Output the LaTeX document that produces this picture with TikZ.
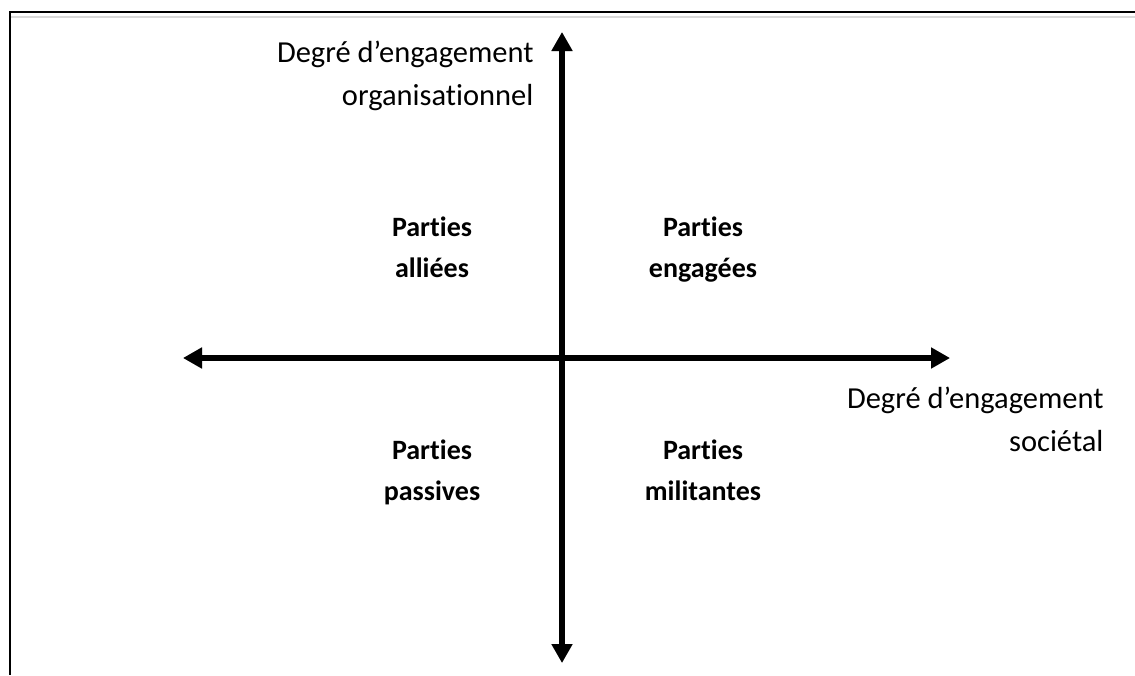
\documentclass[tikz,border=0pt]{standalone}
\usepackage{fontspec}
\setmainfont{Carlito}[Ligatures={NoCommon,NoContextual},Contextuals=NoAlternate,RawFeature={-liga;-clig;-dlig;-calt}]
\usepackage{tikz}
\usetikzlibrary{arrows.meta,positioning}

\begin{document}
\begin{tikzpicture}[x=1pt,y=-1pt,
        axis/.style={{Triangle[length=19pt,width=20pt]}-{Triangle[length=19pt,width=20pt]},line width=6pt,black},
        axisshadow/.style={axis,black!18,shift={(2,5)}},
        frame/.style={line width=1.6pt,black},
        axislabel/.style={font=\fontsize{30.5}{43}\selectfont,align=right,
                          execute at begin node=\strut,execute at end node=\strut},
        quadrant/.style={font=\fontsize{28}{41}\selectfont\bfseries,align=center,
                         execute at begin node=\strut,execute at end node=\strut}]
  \useasboundingbox (0,0) rectangle (1135,675);
  % page frame
  \draw[line width=2pt,black!15] (10,17) -- (1135,17);
  \draw[frame] (1135,12) -- (10,12) -- (10,675);
  % axes
  \coordinate (west)  at (183,358);
  \coordinate (east)  at (950,358);
  \coordinate (north) at (562,32);
  \coordinate (south) at (562,663);
  \draw[axisshadow] (west) -- (east);
  \draw[axisshadow,shift={(-2,-4)}] (north) -- (south);
  \draw[axis] (west) -- (east);
  \draw[axis] (north) -- (south);
  % axis labels
  \node[axislabel,anchor=east] (orga) at (537,80)  {Degré d’engagement\\organisationnel};
  \node[axislabel,anchor=east] (soc)  at (1107,426) {Degré d’engagement\\sociétal};
  % quadrants
  \node[quadrant] (allies)    at (432,253) {Parties\\alliées};
  \node[quadrant] (engages)   at (703,253) {Parties\\engagées};
  \node[quadrant] (passives)  at (432,476) {Parties\\passives};
  \node[quadrant] (militants) at (703,476) {Parties\\militantes};
\end{tikzpicture}
\end{document}
